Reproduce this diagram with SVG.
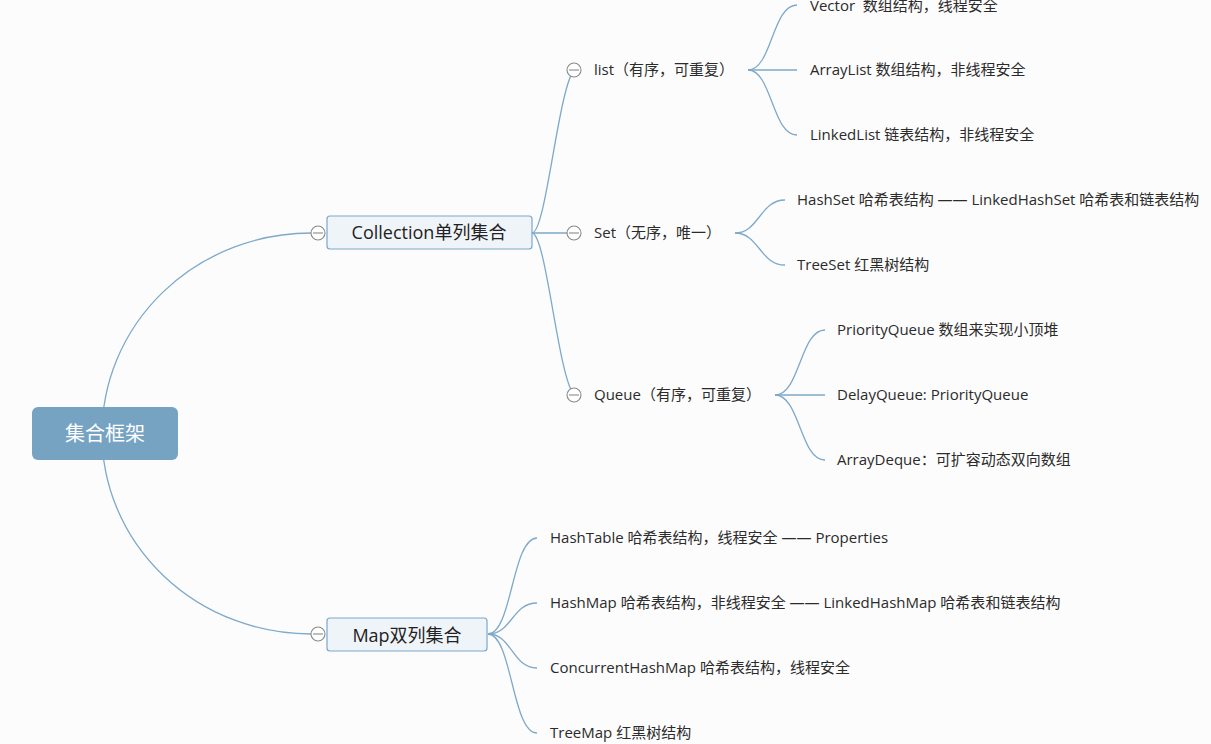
<svg xmlns="http://www.w3.org/2000/svg" width="1211" height="744" viewBox="0 0 1211 744">
<style>
.bg{fill:#fcfcfc}
.ln{fill:none;stroke:#7ea9c9;stroke-width:1.3}
.lbl{font-family:"Open Sans","Noto Sans CJK SC",sans-serif;font-size:15px;fill:#2b2b2b}
.mid{font-family:"Open Sans","Noto Sans CJK SC",sans-serif;font-size:18px;fill:#222;text-anchor:middle}
.root{font-family:"Noto Sans CJK SC",sans-serif;font-size:20px;fill:#ffffff;text-anchor:middle}
.box{fill:#eff4f9;stroke:#7ba7cb;stroke-width:1.2}
.tog{fill:#ffffff;stroke:#8a8a8a;stroke-width:1.1}
</style>
<defs>
<g id="minus"><circle class="tog" cx="0" cy="0" r="7"/><line x1="-5" y1="0" x2="5" y2="0" stroke="#8a8a8a" stroke-width="1.1"/></g>
</defs>
<rect class="bg" x="0" y="0" width="1211" height="744"/>
<g id="connectors">
<path class="ln" d="M 311 233 A 209 201 0 0 0 102 434 A 209 200 0 0 0 311 634"/>
<path class="ln" d="M 532 233 C 546 233 558 90 574 70"/>
<path class="ln" d="M 532 233 L 574 233"/>
<path class="ln" d="M 532 233 C 546 233 558 376 574 395"/>
<path class="ln" d="M 748 70 C 772 70 772 5 797 5"/>
<path class="ln" d="M 748 70 L 797 70"/>
<path class="ln" d="M 748 70 C 772 70 772 135 797 135"/>
<path class="ln" d="M 735 233 C 759 233 760 200 785 200"/>
<path class="ln" d="M 735 233 C 759 233 760 265 785 265"/>
<path class="ln" d="M 775 395 C 800 395 800 330 825 330"/>
<path class="ln" d="M 775 395 L 825 395"/>
<path class="ln" d="M 775 395 C 800 395 800 460 825 460"/>
<path class="ln" d="M 488 634 C 512 634 512 538 537 538"/>
<path class="ln" d="M 488 634 C 512 634 512 603 537 603"/>
<path class="ln" d="M 488 634 C 512 634 512 668 537 668"/>
<path class="ln" d="M 488 634 C 512 634 512 733 537 733"/>
</g>
<g id="root">
<rect x="32" y="407" width="146" height="53" rx="6" fill="#76a3c2"/>
<text class="root" x="105" y="441">集合框架</text>
</g>
<g id="collection">
<rect class="box" x="327" y="216" width="205" height="33" rx="3"/>
<text class="mid" x="429" y="239">Collection单列集合</text>
<use href="#minus" x="318" y="233"/>
</g>
<g id="map">
<rect class="box" x="327" y="618" width="160" height="33" rx="3"/>
<text class="mid" x="407" y="642">Map双列集合</text>
<use href="#minus" x="318" y="634"/>
</g>
<g id="list">
<use href="#minus" x="574" y="70"/>
<text class="lbl" x="594" y="75">list（有序，可重复）</text>
</g>
<g id="set">
<use href="#minus" x="574" y="233"/>
<text class="lbl" x="594" y="238">Set（无序，唯一）</text>
</g>
<g id="queue">
<use href="#minus" x="574" y="395"/>
<text class="lbl" x="594" y="400">Queue（有序，可重复）</text>
</g>
<g id="vector"><text class="lbl" x="810" y="11" xml:space="preserve">Vector  数组结构，线程安全</text></g>
<g id="arraylist"><text class="lbl" x="810" y="75">ArrayList 数组结构，非线程安全</text></g>
<g id="linkedlist"><text class="lbl" x="810" y="140">LinkedList 链表结构，非线程安全</text></g>
<g id="hashset"><text class="lbl" x="797" y="205">HashSet 哈希表结构 —— LinkedHashSet 哈希表和链表结构</text></g>
<g id="treeset"><text class="lbl" x="797" y="270">TreeSet 红黑树结构</text></g>
<g id="priorityqueue"><text class="lbl" x="837" y="335">PriorityQueue 数组来实现小顶堆</text></g>
<g id="delayqueue"><text class="lbl" x="837" y="400">DelayQueue: PriorityQueue</text></g>
<g id="arraydeque"><text class="lbl" x="837" y="465">ArrayDeque：可扩容动态双向数组</text></g>
<g id="hashtable"><text class="lbl" x="550" y="543">HashTable 哈希表结构，线程安全 —— Properties</text></g>
<g id="hashmap"><text class="lbl" x="550" y="608">HashMap 哈希表结构，非线程安全 —— LinkedHashMap 哈希表和链表结构</text></g>
<g id="concurrenthashmap"><text class="lbl" x="550" y="673">ConcurrentHashMap 哈希表结构，线程安全</text></g>
<g id="treemap"><text class="lbl" x="550" y="738">TreeMap 红黑树结构</text></g>
</svg>
